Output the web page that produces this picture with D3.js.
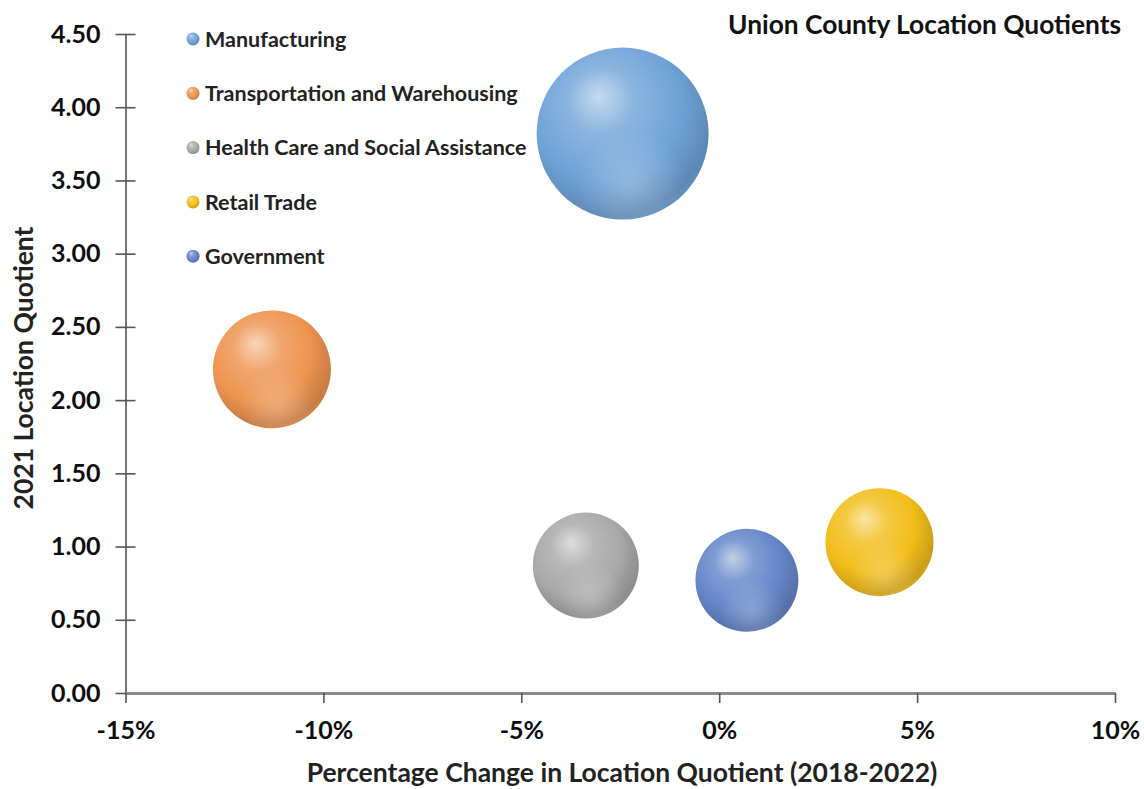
<!DOCTYPE html>
<html lang="en">
<head>
    <meta charset="UTF-8">
    <title>Union County Location Quotients</title>
    <style>
        body{
            margin: 0;
            background: #fff;
        }
        svg{
            display: block;
            font-family: Lato, "Open Sans", sans-serif;
            font-weight: bold;
        }
        .axis text{
            font-family: Lato, "Open Sans", sans-serif;
            font-weight: bold;
            font-size: 25px;
            fill: #0d0d0d;
        }
        .axis-title{
            font-size: 26.5px;
            fill: #222;
        }
        .legend text{
            font-size: 21.5px;
            fill: #222;
        }
        .title{
            font-size: 26.3px;
            fill: #111;
        }
    </style>
    <script src="https://cdn.jsdelivr.net/npm/d3@7"></script>
</head>
<body>
<script>

    // data
    const industries = ["Manufacturing", "Transportation and Warehousing",
        "Health Care and Social Assistance", "Retail Trade", "Government"];
    const pctChange = [-2.44, -11.3, -3.37, 4.05, 0.70];      // % change in LQ 2018-2022
    const lq2021 = [3.82, 2.21, 0.87, 1.03, 0.77];            // 2021 location quotient
    const bubbleSize = [7400, 3480, 2810, 2920, 2650];        // relative bubble size (area)
    const colors = ["#6fa3d8", "#ee9450", "#a9a9a9", "#f2bd1a", "#6586c9"];
    const xTicks = [-15, -10, -5, 0, 5, 10];
    const yTicks = [0, 0.5, 1, 1.5, 2, 2.5, 3, 3.5, 4, 4.5];

    const width = 1144;
    const height = 789;
    const margins = {top: 34, bottom: 96, left: 125.5, right: 29};

    const svg = d3.select("body").append("svg")
        .attr("width", width)
        .attr("height", height)
        .attr("viewBox", `0 0 ${width} ${height}`);

    const xScale = d3.scaleLinear()
        .domain([-15, 10])
        .range([margins.left, width - margins.right]);
    const yScale = d3.scaleLinear()
        .domain([0, 4.5])
        .range([height - margins.bottom, margins.top]);
    const rScale = d3.scaleSqrt()
        .domain([0, d3.max(bubbleSize)])
        .range([0, 86]);

    const data = industries.map((name, i) => ({
        name: name,
        x: pctChange[i],
        y: lq2021[i],
        size: bubbleSize[i],
        color: colors[i],
        id: "g" + i
    }));

    // sphere gradients, like the excel 3d bubbles
    const defs = svg.append("defs");
    data.forEach(d => {
        const c = d3.color(d.color);
        const g = defs.append("radialGradient")
            .attr("id", d.id)
            .attr("cx", "42%").attr("cy", "38%").attr("r", "66%")
            .attr("fx", "36%").attr("fy", "28%");
        g.append("stop").attr("offset", "0%").attr("stop-color", d3.interpolateRgb(c, "#fff")(0.6));
        g.append("stop").attr("offset", "30%").attr("stop-color", d3.interpolateRgb(c, "#fff")(0.18));
        g.append("stop").attr("offset", "65%").attr("stop-color", c.formatHex());
        g.append("stop").attr("offset", "92%").attr("stop-color", c.darker(0.5).formatHex());
        g.append("stop").attr("offset", "100%").attr("stop-color", c.darker(0.35).formatHex());
    });
    const refl = defs.append("radialGradient")
        .attr("id", "refl")
        .attr("cx", "55%").attr("cy", "80%").attr("r", "32%");
    refl.append("stop").attr("offset", "0%").attr("stop-color", "#fff").attr("stop-opacity", 0.25);
    refl.append("stop").attr("offset", "100%").attr("stop-color", "#fff").attr("stop-opacity", 0);

    // y axis
    const yAxis = d3.axisLeft(yScale)
        .tickValues(yTicks)
        .tickFormat(d3.format(".2f"))
        .tickSizeInner(10)
        .tickSizeOuter(0)
        .tickPadding(15);
    const gy = svg.append("g")
        .attr("class", "axis")
        .attr("transform", `translate(${margins.left},0)`)
        .call(yAxis);
    gy.select(".domain").attr("stroke", "#555").attr("stroke-width", 1.6);
    gy.selectAll(".tick line").attr("x1", 10).attr("stroke", "#555").attr("stroke-width", 1.6);

    // x axis
    const xAxis = d3.axisBottom(xScale)
        .tickValues(xTicks)
        .tickFormat(d => d + "%")
        .tickSizeInner(10)
        .tickSizeOuter(0)
        .tickPadding(18);
    const gx = svg.append("g")
        .attr("class", "axis")
        .attr("transform", `translate(0,${yScale(0)})`)
        .call(xAxis);
    gx.select(".domain").attr("stroke", "#8c8c8c").attr("stroke-width", 3.2);
    gx.selectAll(".tick line").attr("stroke", "#555").attr("stroke-width", 1.6);

    // axis titles
    svg.append("text")
        .attr("class", "axis-title")
        .attr("x", 622)
        .attr("y", 782)
        .attr("text-anchor", "middle")
        .text("Percentage Change in Location Quotient (2018-2022)");
    svg.append("text")
        .attr("class", "axis-title")
        .attr("transform", "translate(33,368) rotate(-90)")
        .attr("text-anchor", "middle")
        .text("2021 Location Quotient");

    // chart title
    svg.append("text")
        .attr("class", "title")
        .attr("x", 1121)
        .attr("y", 34)
        .attr("text-anchor", "end")
        .text("Union County Location Quotients");

    // bubbles
    const bubbles = svg.append("g")
        .selectAll("g")
        .data(data.slice().sort((a, b) => b.size - a.size))
        .enter()
        .append("g")
        .attr("transform", d => `translate(${xScale(d.x)},${yScale(d.y)})`);
    bubbles.append("circle")
        .attr("r", d => rScale(d.size))
        .attr("fill", d => `url(#${d.id})`);
    bubbles.append("circle")
        .attr("r", d => rScale(d.size))
        .attr("fill", "url(#refl)");

    // legend
    const legend = svg.append("g")
        .attr("class", "legend")
        .selectAll("g")
        .data(data)
        .enter()
        .append("g")
        .attr("transform", (d, i) => `translate(193,${39 + i * 54.3})`);
    legend.append("circle")
        .attr("r", 6.5)
        .attr("fill", d => `url(#${d.id})`);
    legend.append("text")
        .text(d => d.name)
        .attr("x", 12)
        .attr("dy", "0.36em");

</script>
</body>
</html>
